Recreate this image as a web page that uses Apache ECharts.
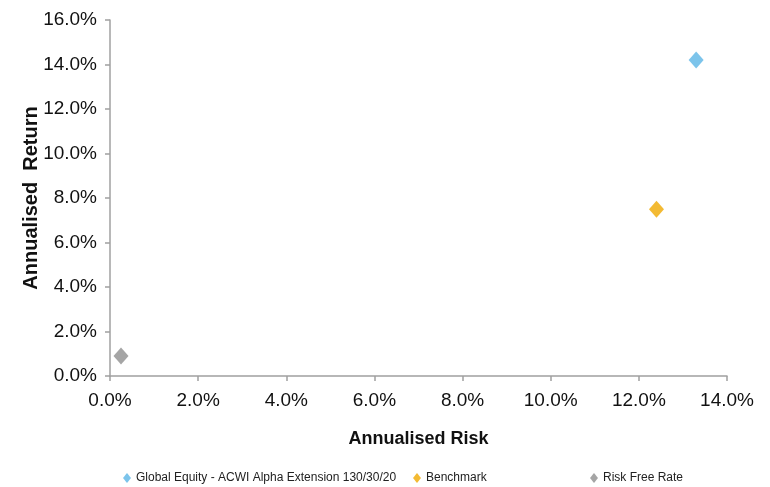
<!DOCTYPE html>
<html>
<head>
<meta charset="utf-8">
<script src="https://cdn.jsdelivr.net/npm/echarts@6/dist/echarts.min.js"></script>
<style>
  html, body { margin: 0; padding: 0; background: #fff; }
  #chart { width: 770px; height: 487px; }
</style>
</head>
<body>
<div id="chart"></div>
<script>
// risk / return pairs, in percent
const seriesNames = ['Global Equity - ACWI Alpha Extension 130/30/20', 'Benchmark', 'Risk Free Rate'];
const riskValues = [13.3, 12.4, 0.25];
const returnValues = [14.2, 7.5, 0.9];
const seriesColors = ['#5BB5E6', '#F0A900', '#8E8E8E'];
const legendLefts = [123, 413, 590];

const font = '"Liberation Sans", Arial, sans-serif';

const chart = echarts.init(document.getElementById('chart'));

const pct = v => v.toFixed(1) + '%';

const axisCommon = {
  type: 'value',
  min: 0,
  interval: 2,
  nameLocation: 'middle',
  nameTextStyle: { fontFamily: font, fontWeight: 'bold', fontSize: 18, color: '#111' },
  axisLine: { show: true, lineStyle: { color: '#a0a0a0', width: 1.5 } },
  axisTick: { show: true, length: 5, lineStyle: { color: '#a0a0a0', width: 1.5 } },
  axisLabel: { formatter: pct, fontFamily: font, fontSize: 19, color: '#111' },
  splitLine: { show: false }
};

const option = {
  animation: false,
  backgroundColor: '#fff',
  grid: { left: 110, right: 43, top: 20, bottom: 111, containLabel: false },
  xAxis: Object.assign({}, axisCommon, {
    max: 14,
    name: 'Annualised Risk',
    nameGap: 54,
    axisLabel: Object.assign({}, axisCommon.axisLabel, { margin: 15 })
  }),
  yAxis: Object.assign({}, axisCommon, {
    max: 16,
    name: 'Annualised  Return',
    nameGap: 69,
    nameMoveOverlap: false,
    nameTextStyle: Object.assign({}, axisCommon.nameTextStyle, { fontSize: 20 }),
    axisLabel: Object.assign({}, axisCommon.axisLabel, { margin: 13 })
  }),
  // one legend per entry so the spacing follows the original
  legend: seriesNames.map((name, i) => ({
    top: 472,
    left: legendLefts[i],
    padding: 0,
    icon: 'diamond',
    itemWidth: 8,
    itemHeight: 10,
    itemGap: 5,
    textStyle: { fontFamily: font, fontSize: 12, color: '#222' },
    data: [name]
  })),
  series: seriesNames.map((name, i) => ({
    name: name,
    type: 'scatter',
    symbol: 'diamond',
    symbolSize: [15, 17],
    itemStyle: { color: seriesColors[i] },
    data: [[riskValues[i], returnValues[i]]]
  }))
};

chart.setOption(option);
</script>
</body>
</html>
